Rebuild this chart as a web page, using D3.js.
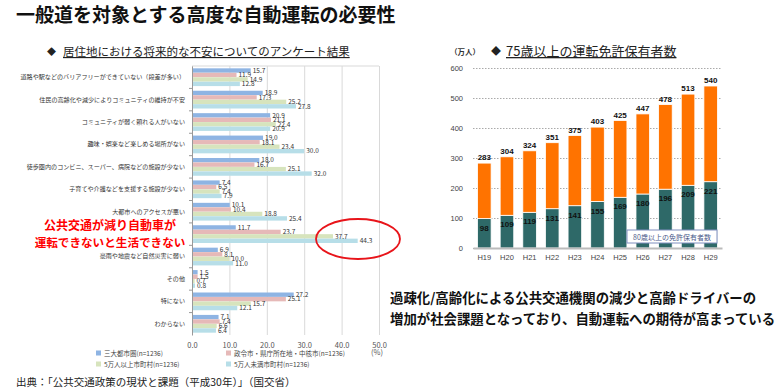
<!DOCTYPE html>
<html>
<head>
<meta charset="utf-8">
<script src="https://cdn.jsdelivr.net/npm/d3@7"></script>
<style>
  body { margin: 0; background: #fff; }
  svg { font-family: "Noto Sans CJK JP", "Noto Sans", sans-serif; }
</style>
</head>
<body>
<svg id="chart" width="780" height="390"></svg>
<script>
// --- left chart: survey on concerns about place of residence (%)
const concerns = [
    '道路や駅などのバリアフリーができていない（段差が多い）',
    '住民の高齢化や減少によりコミュニティの維持が不安',
    'コミュニティが弱く頼れる人がいない',
    '趣味・娯楽など楽しめる場所がない',
    '徒歩圏内のコンビニ、スーパー、病院などの施設が少ない',
    '子育てや介護などを支援する施設が少ない',
    '大都市へのアクセスが悪い',
    '公共交通が減り自動車が運転できないと生活できない',
    '豪雨や地震など自然災害に弱い',
    'その他',
    '特にない',
    'わからない',
];
const seriesNames = [
    '三大都市圏(n=1236)',
    '政令市・県庁所在地・中核市(n=1236)',
    '5万人以上市町村(n=1236)',
    '5万人未満市町村(n=1236)',
];
const metroValues = [15.7, 18.9, 20.9, 19.0, 18.0, 7.4, 10.1, 11.7, 6.9, 1.5, 27.2, 7.1];
const cityValues = [11.9, 17.3, 21.1, 18.1, 16.7, 6.5, 10.4, 23.7, 8.1, 1.5, 25.1, 7.4];
const over50kValues = [14.9, 25.2, 22.4, 23.4, 25.1, 7.4, 18.8, 37.7, 10.0, 0.7, 15.7, 6.6];
const under50kValues = [12.8, 27.8, 20.9, 30.0, 32.0, 7.9, 25.4, 44.3, 11.0, 0.8, 12.1, 6.4];
const percentTicks = [0, 10, 20, 30, 40, 50];

// --- right chart: license holders aged 75+ (10k people)
const years = ['H19', 'H20', 'H21', 'H22', 'H23', 'H24', 'H25', 'H26', 'H27', 'H28', 'H29'];
const holders75 = [283, 304, 324, 351, 375, 403, 425, 447, 478, 513, 540];
const holders80 = [98, 109, 119, 131, 141, 155, 169, 180, 196, 209, 221];
const holderTicks = [0, 100, 200, 300, 400, 500, 600];

const seriesColors = ['#8eb4e3', '#e6b9b8', '#d7e4bd', '#b7dee8'];
const svg = d3.select('#chart');

// titles
svg.append('text')
    .attr('x', 16).attr('y', 22)
    .style('font-size', '19px').style('font-weight', 'bold').style('fill', '#111')
    .text('一般道を対象とする高度な自動運転の必要性');

svg.append('text')
    .attr('x', 47).attr('y', 55)
    .style('font-size', '9px').style('fill', '#222')
    .text('◆');
svg.append('text')
    .attr('x', 63).attr('y', 56)
    .style('font-size', '11.5px').style('fill', '#222')
    .style('text-decoration', 'underline')
    .text('居住地における将来的な不安についてのアンケート結果');

// ---------------- left chart ----------------
const x = d3.scaleLinear().domain([0, 50]).range([192, 379]);
const y = d3.scaleBand().domain(concerns).range([66, 335]).paddingInner(0.2).paddingOuter(0.1);
const ySub = d3.scaleBand().domain(d3.range(4)).range([0, y.bandwidth()]).padding(0.02);

const gridG = svg.append('g')
    .attr('transform', 'translate(0,66)')
    .call(d3.axisTop(x).tickValues(percentTicks).tickSize(-269).tickFormat(''));
gridG.select('.domain').remove();
gridG.selectAll('line').attr('stroke', '#d9d9d9');

svg.append('line')
    .attr('x1', x(0)).attr('x2', x(50)).attr('y1', 66).attr('y2', 66)
    .attr('stroke', '#d9d9d9');

const xAxisG = svg.append('g')
    .attr('transform', 'translate(0,335)')
    .call(d3.axisBottom(x).tickValues(percentTicks).tickSize(0).tickPadding(8).tickFormat(d3.format('.1f')));
xAxisG.select('.domain').remove();
xAxisG.selectAll('text')
    .style('font-size', '7.5px').style('fill', '#555')
    .style('font-family', '"Noto Sans CJK JP", sans-serif');

svg.append('text')
    .attr('x', 377).attr('y', 355)
    .attr('text-anchor', 'middle')
    .style('font-size', '7.5px').style('fill', '#555')
    .text('(%)');

const seriesValues = [metroValues, cityValues, over50kValues, under50kValues];
const barRows = [];
concerns.forEach((c, i) => {
    seriesValues.forEach((vals, s) => barRows.push({ category: c, series: s, value: vals[i] }));
});

svg.selectAll('.survey-bar')
    .data(barRows)
    .enter()
    .append('rect')
    .attr('class', 'survey-bar')
    .attr('x', x(0))
    .attr('y', (d) => y(d.category) + ySub(d.series))
    .attr('width', (d) => x(d.value) - x(0))
    .attr('height', ySub.bandwidth())
    .style('fill', (d) => seriesColors[d.series]);

svg.selectAll('.survey-label')
    .data(barRows)
    .enter()
    .append('text')
    .attr('class', 'survey-label')
    .attr('x', (d) => x(d.value) + 2)
    .attr('y', (d) => y(d.category) + ySub(d.series) + ySub.bandwidth() / 2 + 2.3)
    .style('font-size', '6.5px').style('fill', '#333')
    .text((d) => d.value.toFixed(1));

const yAxisG = svg.append('g')
    .attr('transform', `translate(${x(0)},0)`)
    .call(d3.axisLeft(y).tickSize(0).tickPadding(7)
        .tickFormat((d) => (d === concerns[7] ? '' : d)));
yAxisG.select('.domain').attr('stroke', '#999');
yAxisG.selectAll('text')
    .style('font-size', '6.1px').style('fill', '#333')
    .style('font-family', '"Noto Sans CJK JP", sans-serif');

// small separators between categories on the axis
svg.selectAll('.cat-tick')
    .data(concerns.slice(1))
    .enter()
    .append('line')
    .attr('x1', x(0) - 3).attr('x2', x(0))
    .attr('y1', (d) => y(d) - y.step() * 0.1)
    .attr('y2', (d) => y(d) - y.step() * 0.1)
    .attr('stroke', '#999');

// highlight annotation
svg.append('text')
    .attr('x', 110).attr('y', 229.5)
    .attr('text-anchor', 'middle')
    .style('font-size', '12px').style('font-weight', 'bold').style('fill', '#ff0000')
    .text('公共交通が減り自動車が');
svg.append('text')
    .attr('x', 110).attr('y', 246.5)
    .attr('text-anchor', 'middle')
    .style('font-size', '11.6px').style('font-weight', 'bold').style('fill', '#ff0000')
    .text('運転できないと生活できない');

svg.append('ellipse')
    .attr('cx', 358).attr('cy', 239).attr('rx', 42).attr('ry', 20)
    .attr('fill', 'none').attr('stroke', '#e8141a').attr('stroke-width', 1.8);

// legend
const legend = svg.selectAll('.survey-legend')
    .data(seriesNames)
    .enter()
    .append('g')
    .attr('transform', (d, i) => `translate(${i % 2 === 0 ? 96 : 226},${i < 2 ? 355 : 366})`);
legend.append('rect')
    .attr('width', 5).attr('height', 5).attr('y', -4.5)
    .style('fill', (d, i) => seriesColors[i]);
legend.append('text')
    .attr('x', 8).attr('y', 0.5)
    .style('font-size', '6.5px').style('fill', '#444')
    .text((d) => d);

svg.append('text')
    .attr('x', 16).attr('y', 386)
    .style('font-size', '10.5px').style('fill', '#222')
    .text('出典：「公共交通政策の現状と課題（平成30年）」（国交省）');

// ---------------- right chart ----------------
svg.append('text')
    .attr('x', 491).attr('y', 55)
    .style('font-size', '10px').style('fill', '#222')
    .text('◆');
svg.append('text')
    .attr('x', 506).attr('y', 56)
    .style('font-size', '13px').style('fill', '#222')
    .style('text-decoration', 'underline')
    .text('75歳以上の運転免許保有者数');
svg.append('text')
    .attr('x', 450).attr('y', 55)
    .style('font-size', '7.5px').style('font-weight', 'bold').style('fill', '#333')
    .text('（万人）');

const xb = d3.scaleBand().domain(years).range([473, 722]).paddingInner(0.4).paddingOuter(0.2);
const yb = d3.scaleLinear().domain([0, 600]).range([248, 68]);

const ybAxis = svg.append('g')
    .attr('transform', 'translate(473,0)')
    .call(d3.axisLeft(yb).tickValues(holderTicks).tickSize(-249).tickPadding(10));
ybAxis.select('.domain').remove();
ybAxis.selectAll('line')
    .attr('stroke', '#aaa').attr('stroke-dasharray', '1.5,1.5');
ybAxis.selectAll('text')
    .style('font-size', '7.5px').style('fill', '#444')
    .style('font-family', 'Arial, "Liberation Sans", sans-serif');

const rows = years.map((yr, i) => ({ year: yr, over80: holders80[i], rest: holders75[i] - holders80[i] }));
const stacked = d3.stack().keys(['over80', 'rest'])(rows);
const stackColors = { over80: '#2e6968', rest: '#ff7300' };

svg.append('g')
    .selectAll('g')
    .data(stacked)
    .enter()
    .append('g')
    .style('fill', (d) => stackColors[d.key])
    .selectAll('rect')
    .data((d) => d)
    .enter()
    .append('rect')
    .attr('x', (d) => xb(d.data.year))
    .attr('y', (d) => yb(d[1]))
    .attr('width', xb.bandwidth())
    .attr('height', (d) => yb(d[0]) - yb(d[1]))
    .attr('stroke', '#fff')
    .attr('stroke-width', 0.8);

const xbAxis = svg.append('g')
    .attr('transform', 'translate(0,248)')
    .call(d3.axisBottom(xb).tickSize(0).tickPadding(7));
xbAxis.select('.domain').attr('stroke', '#bbb').attr('stroke-width', 2);
xbAxis.selectAll('text')
    .style('font-size', '7.5px').style('fill', '#444')
    .style('font-family', 'Arial, "Liberation Sans", sans-serif');

svg.selectAll('.total-label')
    .data(rows)
    .enter()
    .append('text')
    .attr('x', (d) => xb(d.year) + xb.bandwidth() / 2)
    .attr('y', (d) => yb(d.over80 + d.rest) - 3)
    .attr('text-anchor', 'middle')
    .style('font-size', '8px').style('font-weight', 'bold').style('fill', '#111')
    .style('font-family', 'Arial, "Liberation Sans", sans-serif')
    .text((d) => d.over80 + d.rest);

svg.selectAll('.over80-label')
    .data(rows)
    .enter()
    .append('text')
    .attr('x', (d) => xb(d.year) + xb.bandwidth() / 2)
    .attr('y', (d) => yb(d.over80) + 12)
    .attr('text-anchor', 'middle')
    .style('font-size', '8px').style('font-weight', 'bold').style('fill', '#111')
    .style('font-family', 'Arial, "Liberation Sans", sans-serif')
    .text((d) => d.over80);

svg.append('rect')
    .attr('x', 627).attr('y', 230).attr('width', 90).attr('height', 13)
    .attr('fill', '#fff').attr('stroke', '#8090c0').attr('stroke-width', 1);
svg.append('text')
    .attr('x', 672).attr('y', 239.5)
    .attr('text-anchor', 'middle')
    .style('font-size', '7px').style('fill', '#4a5a8a')
    .text('80歳以上の免許保有者数');

// message
svg.append('text')
    .attr('x', 390).attr('y', 303)
    .style('font-size', '13.4px').style('font-weight', 'bold').style('fill', '#111')
    .text('過疎化/高齢化による公共交通機関の減少と高齢ドライバーの');
svg.append('text')
    .attr('x', 390).attr('y', 324)
    .style('font-size', '13.4px').style('font-weight', 'bold').style('fill', '#111')
    .text('増加が社会課題となっており、自動運転への期待が高まっている');
</script>
</body>
</html>
